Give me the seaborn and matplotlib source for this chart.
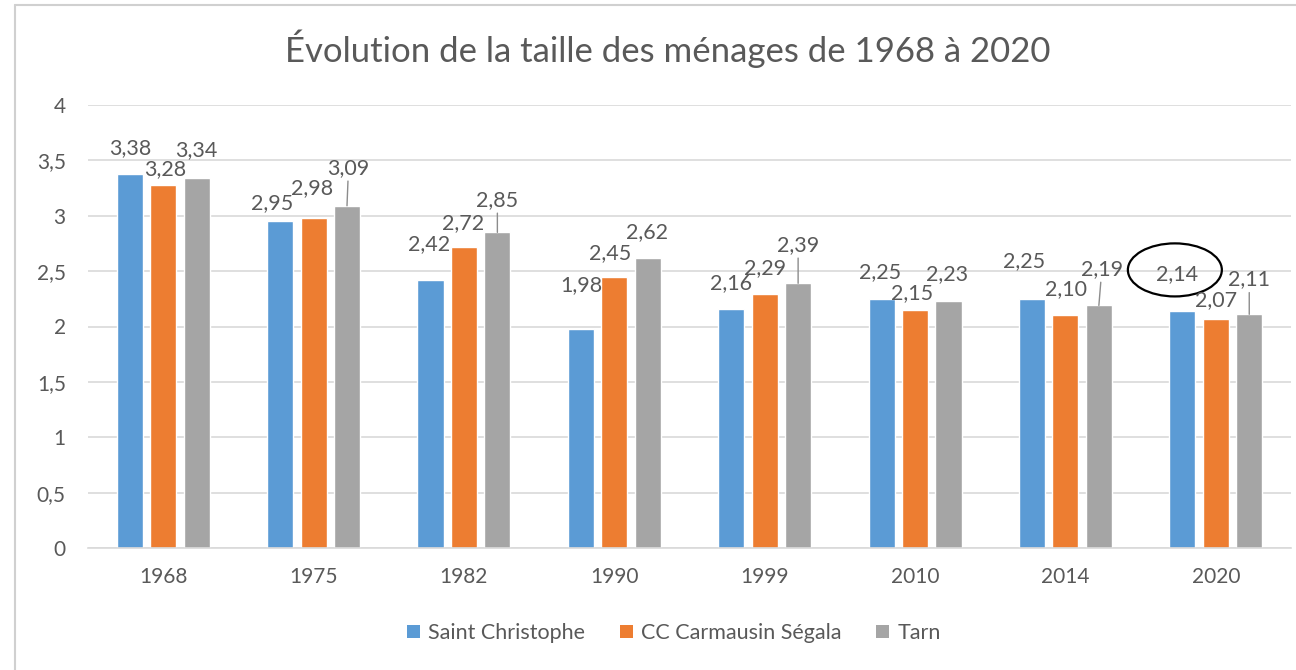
"""
Taille des ménages - Saint Christophe / CC Carmausin Ségala / Tarn
"""

import matplotlib.pyplot as plt
import matplotlib.ticker as mticker
from matplotlib.patches import Patch, Ellipse
from matplotlib.lines import Line2D
import pandas as pd
import seaborn as sns

sns.set_style("white")
plt.rcParams["font.family"] = ["Lato", "DejaVu Sans"]

annees = ["1968", "1975", "1982", "1990", "1999", "2010", "2014", "2020"]
series = ["Saint Christophe", "CC Carmausin Ségala", "Tarn"]
saint_christophe = [3.38, 2.95, 2.42, 1.98, 2.16, 2.25, 2.25, 2.14]
cc_carmausin = [3.28, 2.98, 2.72, 2.45, 2.29, 2.15, 2.10, 2.07]
tarn = [3.34, 3.09, 2.85, 2.62, 2.39, 2.23, 2.19, 2.11]

couleurs = ["#5B9BD5", "#ED7D31", "#A5A5A5"]
texte = "#595959"

# label offsets in pixels (dx, dy) from the top of each bar
decalages = [
    [(0, -26), (-8, -18), (-1.5, -36), (0, -44), (0, -26), (-1.5, -26.5), (-8, -38), (-5, -37)],
    [(2, -15.5), (-1.5, -29.5), (-1, -23.5), (-4.5, -23.5), (0.5, -26), (-3, -17), (0.5, -26), (0, -18.5)],
    [(0, -28), (1.5, -38), (0, -32.5), (-1, -25.5), (0, -38.5), (-1, -26.7), (3, -36.5), (0, -35)],
]
# data labels pulled away from the bar with a leader line (Tarn)
avec_trait = [1, 2, 4, 6, 7]

df = pd.DataFrame({
    "annee": annees * 3,
    "serie": [s for s in series for _ in annees],
    "valeur": saint_christophe + cc_carmausin + tarn,
})

fig = plt.figure(figsize=(12.96, 6.70), dpi=100)
ax = fig.add_axes([88 / 1296, 1 - 548 / 670, 1203 / 1296, 443 / 670])

sns.barplot(data=df, x="annee", y="valeur", hue="serie", hue_order=series,
            palette=couleurs, saturation=1, width=0.667, gap=0.22,
            errorbar=None, legend=False, ax=ax)

ax.set_ylim(0, 4)
ax.set_yticks([0, 0.5, 1, 1.5, 2, 2.5, 3, 3.5, 4])
ax.yaxis.set_major_formatter(mticker.FuncFormatter(lambda v, p: f"{v:g}".replace(".", ",")))
ax.grid(axis="y", color="#D9D9D9", linewidth=1.2)
ax.set_axisbelow(True)
for s in ["left", "right", "top"]:
    ax.spines[s].set_visible(False)
ax.spines["bottom"].set_color("#D9D9D9")
ax.spines["bottom"].set_linewidth(1.2)
ax.tick_params(axis="y", length=0, pad=16, labelsize=15, labelcolor=texte)
ax.tick_params(axis="x", length=0, pad=14, labelsize=15, labelcolor=texte)
ax.set_xlabel("")
ax.set_ylabel("")

for i, conteneur in enumerate(ax.containers):
    for j, barre in enumerate(conteneur):
        x = barre.get_x() + barre.get_width() / 2
        h = barre.get_height()
        dx, dy = decalages[i][j]
        fleche = None
        if i == 2 and j in avec_trait:
            fleche = dict(arrowstyle="-", color="#8C8C8C", lw=1, shrinkA=0, shrinkB=0)
        ax.annotate(f"{h:.2f}".replace(".", ","), (x, h),
                    xytext=(dx * 0.72, -dy * 0.72), textcoords="offset points",
                    ha="center", va="center", fontsize=15.5, color=texte,
                    arrowprops=fleche)

# circle around the 2020 Saint Christophe label
b = ax.containers[0][7]
ax.add_patch(Ellipse((b.get_x() + b.get_width() / 2 - 0.05, b.get_height() + 0.371),
                     0.625, 0.479, fill=False, edgecolor="black", linewidth=1.6,
                     clip_on=False))

fig.text(668 / 1296, 1 - 49 / 670, "Évolution de la taille des ménages de 1968 à 2020",
         ha="center", va="center", fontsize=25, color=texte)

poignees = [Patch(facecolor=c, edgecolor="none", label=s) for c, s in zip(couleurs, series)]
leg = fig.legend(handles=poignees, loc="center", bbox_to_anchor=(0.52, 1 - 633 / 670),
                 ncol=3, frameon=False, fontsize=15.5, handlelength=0.6, handleheight=0.6,
                 handletextpad=0.4, columnspacing=1.6)
for t in leg.get_texts():
    t.set_color(texte)

fig.add_artist(Line2D([15 / 1296, 15 / 1296], [0, 1 - 5 / 670], transform=fig.transFigure,
                      color="#D0D0D0", linewidth=1.5))
fig.add_artist(Line2D([15 / 1296, 1], [1 - 5 / 670, 1 - 5 / 670], transform=fig.transFigure,
                      color="#D0D0D0", linewidth=1.5))

fig.savefig("out.png", dpi=100)
